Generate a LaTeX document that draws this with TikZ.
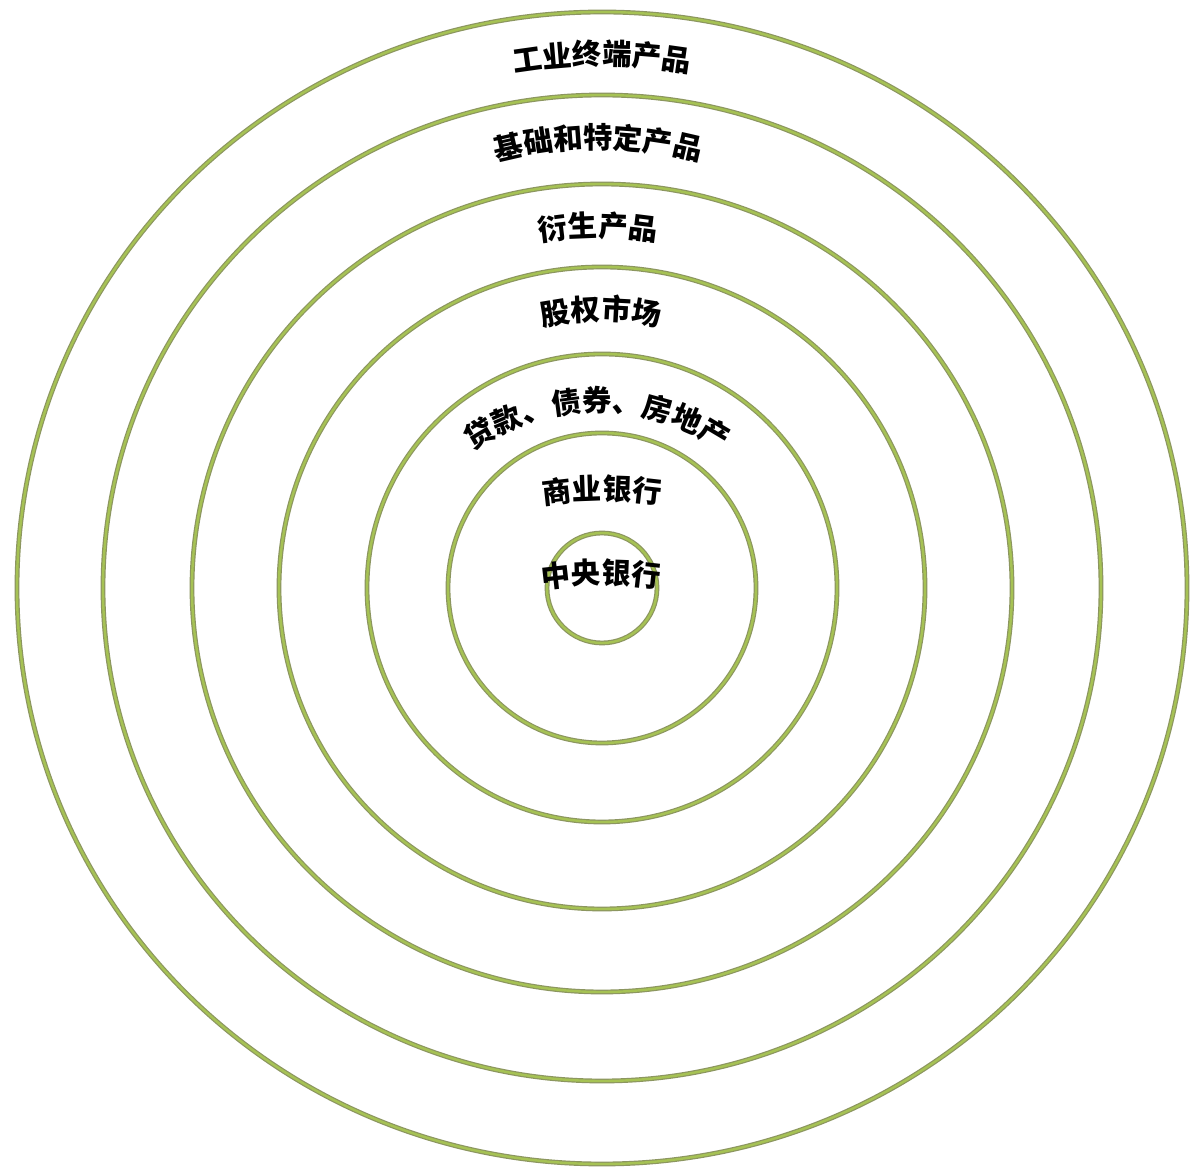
\documentclass[tikz,border=0pt]{standalone}
\usepackage{fontspec}
\usetikzlibrary{decorations.text}
\newfontfamily\cjkfont{Noto Sans CJK SC}
\newcommand\lblfont{\cjkfont\bfseries\fontsize{22}{26}\selectfont}
\definecolor{ringdark}{RGB}{140,150,96}
\definecolor{ringlight}{RGB}{166,194,84}
\tikzset{
  ring/.style={draw=ringdark, line width=3.6pt},
  ringhi/.style={draw=ringlight, line width=1.8pt},
}
\newcommand\arclabel[4]{%
  \pgfmathsetmacro\rbase{#3-11}%
  \pgfmathsetmacro\cyy{1171-#2-#3}%
  \pgfmathsetmacro\halfang{min(80,0.75*300/\rbase*57.2958)}%
  \path[decorate,decoration={text along path,text={|\lblfont|#4},text align=center}]
    (#1,\cyy) ++(90+\halfang:\rbase) arc[start angle=90+\halfang, end angle=90-\halfang, radius=\rbase];
}
\begin{document}
\begin{tikzpicture}[x=0.75pt,y=0.75pt]
\fill[white] (0,0) rectangle (1196,1171);
\useasboundingbox (0,0) rectangle (1196,1171);
\coordinate (c) at (602,583);
\foreach \rx/\ry in {585/576, 499/493, 410/404, 323/321, 235/234, 154/155, 55/55}{
  \draw[ring] (c) ellipse[x radius=\rx, y radius=\ry];
  \draw[ringhi] (c) ellipse[x radius=\rx, y radius=\ry];
}
\arclabel{602}{54}{534}{工业终端产品}
\arclabel{598}{137}{400}{基础和特定产品}
\arclabel{598}{226}{362}{衍生产品}
\arclabel{601}{309}{279}{股权市场}
\arclabel{597}{401}{230}{贷款、债券、房地产}
\arclabel{602}{489}{400}{商业银行}
\arclabel{601}{573}{400}{中央银行}
\end{tikzpicture}
\end{document}
